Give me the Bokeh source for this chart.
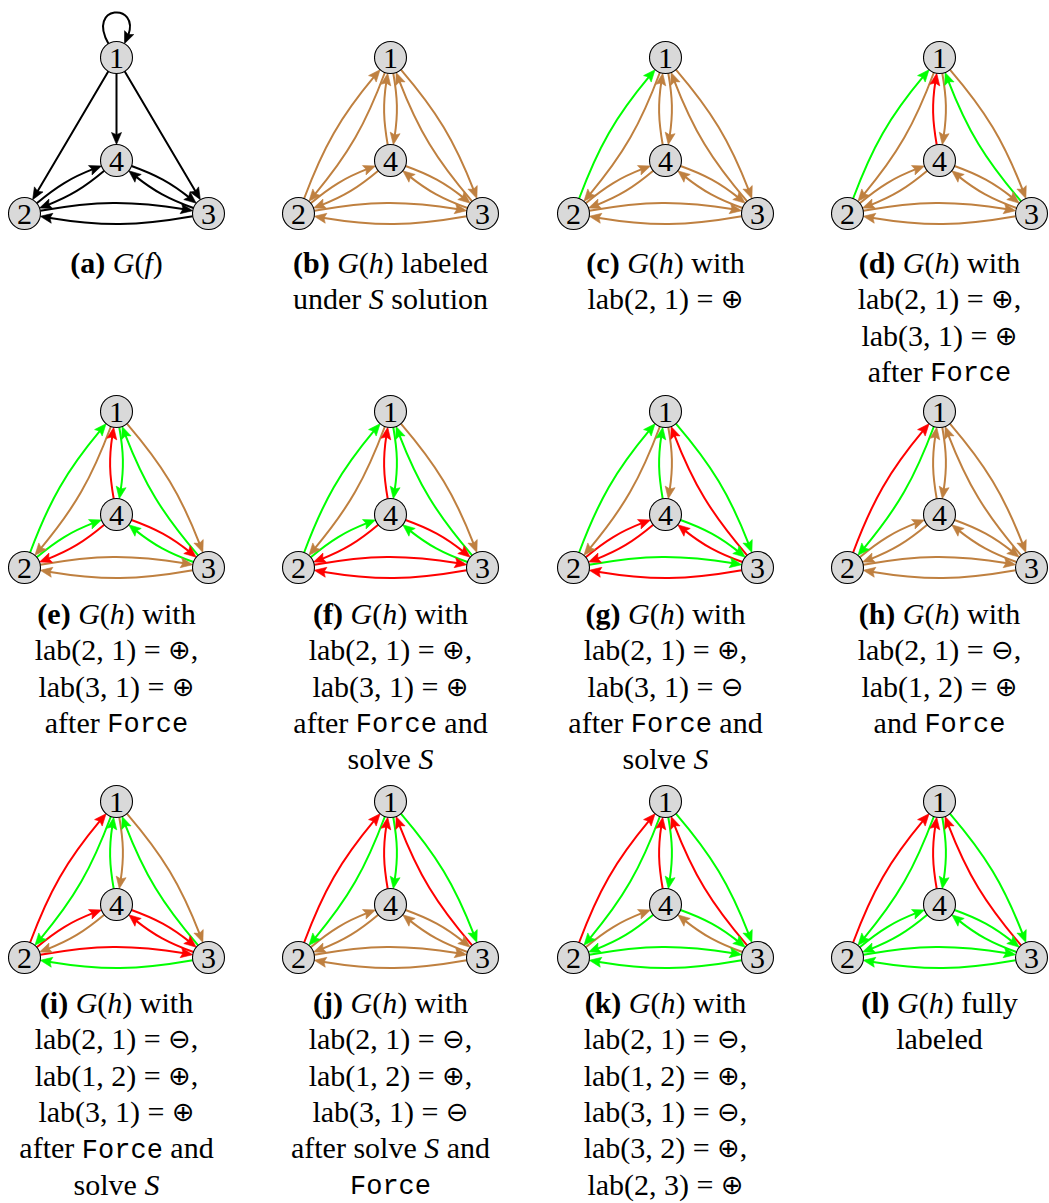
import math
import re

from bokeh.core.properties import value
from bokeh.embed import file_html
from bokeh.models import ColumnDataSource, Range1d
from bokeh.plotting import figure
from bokeh.resources import INLINE

W, H = 1049, 1203

# ---------------------------------------------------------------- data
panel_ids = ["a", "b", "c", "d", "e", "f", "g", "h", "i", "j", "k", "l"]

# directed edges of G(h), in the order used by the label lists below
h_edges = [(1, 2), (2, 1), (1, 3), (3, 1), (1, 4), (4, 1),
           (2, 3), (3, 2), (2, 4), (4, 2), (3, 4), (4, 3)]

# edge labels per panel: "n" unlabelled, "p" = ⊕, "m" = ⊖
labels_b = ["n", "n", "n", "n", "n", "n", "n", "n", "n", "n", "n", "n"]
labels_c = ["n", "p", "n", "n", "n", "n", "n", "n", "n", "n", "n", "n"]
labels_d = ["n", "p", "n", "p", "n", "m", "n", "n", "n", "n", "n", "n"]
labels_e = ["n", "p", "n", "p", "p", "m", "n", "n", "p", "m", "p", "m"]
labels_f = ["n", "p", "n", "p", "p", "m", "m", "m", "p", "m", "p", "m"]
labels_g = ["n", "p", "p", "m", "n", "p", "p", "m", "m", "m", "m", "p"]
labels_h = ["p", "m", "n", "n", "n", "n", "n", "n", "n", "n", "n", "n"]
labels_i = ["p", "m", "n", "p", "n", "p", "m", "p", "m", "n", "m", "m"]
labels_j = ["p", "m", "p", "m", "p", "m", "n", "n", "n", "n", "n", "n"]
labels_k = ["p", "m", "p", "m", "p", "m", "p", "p", "n", "p", "n", "p"]
labels_l = ["p", "m", "p", "m", "p", "m", "p", "p", "p", "p", "p", "p"]

# G(f): self loop on 1, straight arcs out of 1, paired arcs elsewhere
f_edges = [(1, 1), (1, 2), (1, 3), (1, 4),
           (2, 3), (3, 2), (2, 4), (4, 2), (3, 4), (4, 3)]
f_straight = [(1, 2), (1, 3), (1, 4)]

# captions: {b:..} bold, {i:..} italic, {t:..} typewriter
captions = [
    ["{b:(a)} {i:G}({i:f})"],
    ["{b:(b)} {i:G}({i:h}) labeled", "under {i:S} solution"],
    ["{b:(c)} {i:G}({i:h}) with", "lab(2, 1) = ⊕"],
    ["{b:(d)} {i:G}({i:h}) with", "lab(2, 1) = ⊕,", "lab(3, 1) = ⊕",
     "after {t:Force}"],
    ["{b:(e)} {i:G}({i:h}) with", "lab(2, 1) = ⊕,", "lab(3, 1) = ⊕",
     "after {t:Force}"],
    ["{b:(f)} {i:G}({i:h}) with", "lab(2, 1) = ⊕,", "lab(3, 1) = ⊕",
     "after {t:Force} and", "solve {i:S}"],
    ["{b:(g)} {i:G}({i:h}) with", "lab(2, 1) = ⊕,", "lab(3, 1) = ⊖",
     "after {t:Force} and", "solve {i:S}"],
    ["{b:(h)} {i:G}({i:h}) with", "lab(2, 1) = ⊖,", "lab(1, 2) = ⊕",
     "and {t:Force}"],
    ["{b:(i)} {i:G}({i:h}) with", "lab(2, 1) = ⊖,", "lab(1, 2) = ⊕,",
     "lab(3, 1) = ⊕", "after {t:Force} and", "solve {i:S}"],
    ["{b:(j)} {i:G}({i:h}) with", "lab(2, 1) = ⊖,", "lab(1, 2) = ⊕,",
     "lab(3, 1) = ⊖", "after solve {i:S} and", "{t:Force}"],
    ["{b:(k)} {i:G}({i:h}) with", "lab(2, 1) = ⊖,", "lab(1, 2) = ⊕,",
     "lab(3, 1) = ⊖,", "lab(3, 2) = ⊕,", "lab(2, 3) = ⊕"],
    ["{b:(l)} {i:G}({i:h}) fully", "labeled"],
]

# ---------------------------------------------------------------- layout
col_x = [116, 390, 665, 939]
row_top = [57, 411, 801]          # centre of node 1 in each row
cap_base = [262, 613, 1002]       # baseline of first caption line
line_gap = 36.3
NODE_R = 16
BEND = math.radians(10)
ARROW_L, ARROW_W = 12.0, 5.0
EDGE_W = 2.0

label_color = {"n": "#BF8040", "p": "#00FF00", "m": "#FF0000"}


def node_pos(cx, top):
    return {1: (cx, top), 4: (cx, top + 103),
            2: (cx - 92, top + 156), 3: (cx + 92, top + 156)}


def bent_curve(ca, cb, bend):
    (xa, ya), (xb, yb) = ca, cb
    phi = math.atan2(yb - ya, xb - xa)
    a0 = phi - bend
    a1 = phi + math.pi + bend
    p0 = (xa + NODE_R * math.cos(a0), ya + NODE_R * math.sin(a0))
    p3 = (xb + NODE_R * math.cos(a1), yb + NODE_R * math.sin(a1))
    L = 0.3915 * math.dist(p0, p3)
    p1 = (p0[0] + L * math.cos(a0), p0[1] + L * math.sin(a0))
    p2 = (p3[0] + L * math.cos(a1), p3[1] + L * math.sin(a1))
    return p0, p1, p2, p3


def loop_curve(c):
    a0, a1 = math.radians(-120), math.radians(-60)
    p0 = (c[0] + NODE_R * math.cos(a0), c[1] + NODE_R * math.sin(a0))
    p3 = (c[0] + NODE_R * math.cos(a1), c[1] + NODE_R * math.sin(a1))
    L = 48
    p1 = (p0[0] + L * math.cos(a0), p0[1] + L * math.sin(a0))
    p2 = (p3[0] + L * math.cos(a1), p3[1] + L * math.sin(a1))
    return p0, p1, p2, p3


def lerp(a, b, t):
    return (a[0] + (b[0] - a[0]) * t, a[1] + (b[1] - a[1]) * t)


def point_at(c, t):
    p0, p1, p2, p3 = c
    a, b, d = lerp(p0, p1, t), lerp(p1, p2, t), lerp(p2, p3, t)
    e, f = lerp(a, b, t), lerp(b, d, t)
    return lerp(e, f, t)


def t_back(c, dist):
    t = 1.0
    while t > 0 and math.dist(point_at(c, t), c[3]) < dist:
        t -= 0.002
    return t


def head_part(c, t):
    p0, p1, p2, p3 = c
    a, b = lerp(p0, p1, t), lerp(p1, p2, t)
    return p0, a, lerp(a, b, t), point_at(c, t)


curves = {k: [] for k in ("x0", "y0", "x1", "y1", "cx0", "cy0", "cx1", "cy1", "color")}
heads = {"xs": [], "ys": [], "color": []}


def add_edge(c, color):
    tb = t_back(c, ARROW_L * 0.7)
    q0, q1, q2, q3 = head_part(c, tb)
    for key, val in zip(("x0", "y0", "cx0", "cy0", "cx1", "cy1", "x1", "y1"),
                        (*q0, *q1, *q2, *q3)):
        curves[key].append(val)
    curves["color"].append(color)
    tip = c[3]
    base = point_at(c, t_back(c, ARROW_L))
    ux, uy = tip[0] - base[0], tip[1] - base[1]
    n = math.hypot(ux, uy)
    ux, uy = ux / n, uy / n
    nx, ny = -uy, ux
    bx, by = tip[0] - ux * ARROW_L, tip[1] - uy * ARROW_L
    kx, ky = tip[0] - ux * ARROW_L * 0.82, tip[1] - uy * ARROW_L * 0.82
    heads["xs"].append([tip[0], bx + nx * ARROW_W, kx, bx - nx * ARROW_W])
    heads["ys"].append([tip[1], by + ny * ARROW_W, ky, by - ny * ARROW_W])
    heads["color"].append(color)


nodes = {"x": [], "y": [], "text": [], "ty": []}
panel_labels = [None, labels_b, labels_c, labels_d, labels_e, labels_f,
                labels_g, labels_h, labels_i, labels_j, labels_k, labels_l]

for idx, pid in enumerate(panel_ids):
    cx, top = col_x[idx % 4], row_top[idx // 4]
    pos = node_pos(cx, top)
    if pid == "a":
        for (s, t) in f_edges:
            if s == t:
                c = loop_curve(pos[s])
            elif (s, t) in f_straight:
                c = bent_curve(pos[s], pos[t], 0.0)
            else:
                c = bent_curve(pos[s], pos[t], BEND)
            add_edge(c, "#000000")
    else:
        for (s, t), lab in zip(h_edges, panel_labels[idx]):
            add_edge(bent_curve(pos[s], pos[t], BEND), label_color[lab])
    for k in (1, 2, 3, 4):
        nodes["x"].append(pos[k][0])
        nodes["y"].append(pos[k][1])
        nodes["ty"].append(pos[k][1] + 1)
        nodes["text"].append(str(k))

# ---------------------------------------------------------------- captions
SERIF = "Liberation Serif"
styles = {
    "r": dict(font=SERIF, style="normal", size=30, dy=0),
    "i": dict(font=SERIF, style="italic", size=30, dy=0),
    "b": dict(font=SERIF, style="bold", size=30, dy=0),
    "t": dict(font="Liberation Mono", style="normal", size=27, dy=3),
    "s": dict(font="DejaVu Sans", style="normal", size=27, dy=0),
}
adv_r = {" ": 250, "(": 333, ")": 333, ",": 250, "=": 564, "a": 444, "b": 500,
         "d": 500, "e": 444, "f": 333, "h": 500, "i": 278, "l": 278, "n": 500,
         "o": 500, "r": 333, "s": 389, "t": 278, "u": 500, "v": 500, "w": 722,
         "y": 500}
adv_i = {"G": 722, "h": 500, "f": 278, "S": 500}
adv_b = {"(": 333, ")": 333, "a": 500, "b": 556, "c": 444, "d": 556, "e": 444,
         "f": 333, "g": 500, "h": 556, "i": 278, "j": 333, "k": 556, "l": 278}


def advance(style, txt):
    size = styles[style]["size"]
    if style == "t":
        units = 600 * len(txt)
    elif style == "s":
        units = 838 * len(txt)
    else:
        table = {"r": adv_r, "i": adv_i, "b": adv_b}[style]
        units = sum(table.get(ch, 500) for ch in txt)
    return units * size / 1000.0


cap_runs = {k: {"x": [], "y": [], "text": []} for k in styles}


def place_line(markup, cx, base):
    runs, pos = [], 0
    for m in re.finditer(r"\{(\w):([^}]*)\}", markup):
        if m.start() > pos:
            runs.append(("r", markup[pos:m.start()]))
        runs.append((m.group(1), m.group(2)))
        pos = m.end()
    if pos < len(markup):
        runs.append(("r", markup[pos:]))
    pieces = []
    for st, txt in runs:
        if st == "r":
            for part in re.split(r"([⊕⊖])", txt):
                if part in ("⊕", "⊖"):
                    pieces.append(("s", part))
                elif part:
                    pieces.append(("r", part))
        else:
            pieces.append((st, txt))
    total = sum(advance(st, txt) for st, txt in pieces)
    x = cx - total / 2.0
    for st, txt in pieces:
        for word in re.split(r"( )", txt):
            if not word:
                continue
            if word.strip():
                cap_runs[st]["x"].append(x)
                cap_runs[st]["y"].append(base + styles[st]["dy"])
                cap_runs[st]["text"].append(word)
            x += advance("r" if word == " " else st, word)


for idx, lines in enumerate(captions):
    cx, b0 = col_x[idx % 4], cap_base[idx // 4]
    for j, line in enumerate(lines):
        place_line(line, cx, b0 + j * line_gap)

# ---------------------------------------------------------------- drawing
p = figure(width=W, height=H, x_range=Range1d(0, W), y_range=Range1d(H, 0),
           output_backend="svg", toolbar_location=None,
           x_axis_location=None, y_axis_location=None, min_border=0)
p.outline_line_color = None
p.grid.visible = False
p.background_fill_color = "white"
p.border_fill_color = "white"

p.bezier(x0="x0", y0="y0", x1="x1", y1="y1", cx0="cx0", cy0="cy0",
         cx1="cx1", cy1="cy1", line_color="color", line_width=EDGE_W,
         source=ColumnDataSource(curves))
p.patches(xs="xs", ys="ys", fill_color="color", line_color="color",
          line_width=0.6, source=ColumnDataSource(heads))

node_src = ColumnDataSource(nodes)
p.circle(x="x", y="y", radius=NODE_R, fill_color="#D9D9D9",
         line_color="black", line_width=1.1, source=node_src)
p.text(x="x", y="ty", text="text", source=node_src,
       text_font=value(SERIF), text_font_size="30px",
       text_align="center", text_baseline="alphabetic", text_color="black")

for st, spec in styles.items():
    p.text(x="x", y="y", text="text", source=ColumnDataSource(cap_runs[st]),
           text_font=value(spec["font"]), text_font_style=spec["style"],
           text_font_size=f"{spec['size']}px", text_align="left",
           text_baseline="alphabetic", text_color="black")

open("out.html", "w").write(file_html(p, INLINE))
